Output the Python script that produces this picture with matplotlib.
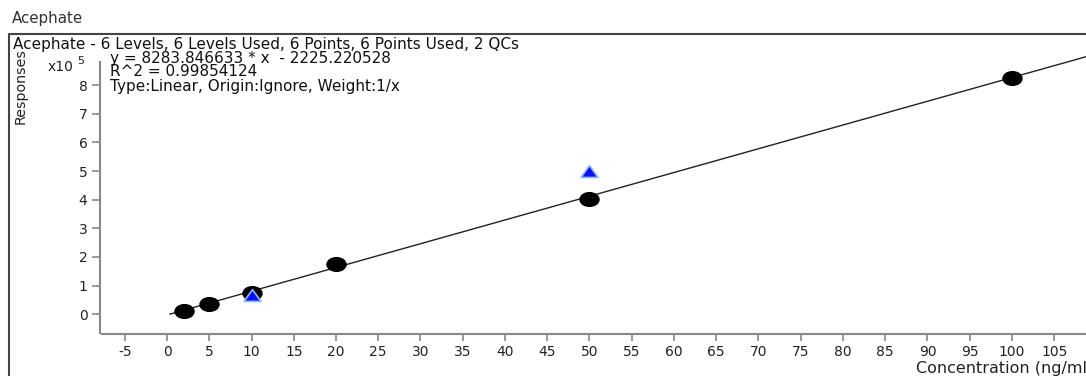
import numpy as np
import matplotlib
matplotlib.use("Agg")
import matplotlib.pyplot as plt
from matplotlib.path import Path
from matplotlib.lines import Line2D

# calibration levels (ng/ml) and responses
conc = [2, 5, 10, 20, 50, 100]
resp = [12600, 36000, 75500, 175500, 401000, 826000]

# QC samples
qc_conc = [10, 50]
qc_resp = [67000, 501000]

# fit: y = a*x + b
slope = 8283.846633
intercept = -2225.220528

title = "Acephate"
box_title = "Acephate - 6 Levels, 6 Levels Used, 6 Points, 6 Points Used, 2 QCs"
fit_lines = ["y = 8283.846633 * x  - 2225.220528",
             "R^2 = 0.99854124",
             "Type:Linear, Origin:Ignore, Weight:1/x"]
xticks = list(range(-5, 110, 5))
yticks = list(range(0, 9))

W, H = 1086, 376
plt.rcParams['font.family'] = 'DejaVu Sans'
fig = plt.figure(figsize=(W / 100, H / 100), dpi=100)


def px(x, y):
    # pixel coords (from top-left) -> figure fraction
    return x / W, 1 - y / H


ax = fig.add_axes([100 / W, (H - 333) / H, (W - 100) / W, (333 - 62) / H])
ax.set_xlim(-7.93, 108.76)
ax.set_ylim(-65200, 880300)

# ellipse marker for the standards, triangle for QCs
circ = Path.unit_circle()
ell = Path(circ.vertices * [1.0, 0.72], circ.codes)
tri = Path([(-1, -0.7), (1, -0.7), (0, 0.7), (-1, -0.7)],
           [Path.MOVETO, Path.LINETO, Path.LINETO, Path.CLOSEPOLY])

xx = np.array([0.35, 112])
ax.plot(xx, slope * xx + intercept, color='#222222', lw=1.0, clip_on=False, zorder=2)
ax.plot(conc, resp, ls='none', marker=ell, ms=13.7, mfc='black', mec='black', zorder=3)
ax.plot(qc_conc, qc_resp, ls='none', marker=tri, ms=12.2, mfc='#0a10f0',
        mec='#8ab8ff', mew=1.2, zorder=4)

ax.set_xticks(xticks)
ax.set_xticklabels([str(t) for t in xticks])
ax.set_yticks([t * 1e5 for t in yticks])
ax.set_yticklabels([str(t) for t in yticks])
ax.tick_params(axis='both', colors='#888888', labelcolor='#222222', labelsize=10, width=1.2)
ax.tick_params(axis='y', length=6, pad=3)
ax.tick_params(axis='x', length=5, pad=3)

for s in ['top', 'right']:
    ax.spines[s].set_visible(False)
for s in ['left', 'bottom']:
    ax.spines[s].set_color('#888888')
    ax.spines[s].set_linewidth(1.5)
ax.spines['bottom'].set_position(('outward', 1))
ax.spines['bottom'].set_bounds(-7.7, 108.76)
ax.patch.set_alpha(0)

# outer frame (runs off the right and bottom edge)
fig.add_artist(Line2D([9 / W, 9 / W, 1.0], [0, 1 - 34 / H, 1 - 34 / H],
                      color='#444444', lw=1.5))

fig.text(*px(12, 19), title, fontsize=10.8, color='#333333', va='center', ha='left')
fig.text(*px(13, 49.5), box_title, fontsize=11, color='#111111', va='baseline', ha='left')
for i, yb in enumerate([63, 76.5, 90.5]):
    fig.text(*px(110, yb), fit_lines[i], fontsize=11, color='#111111',
             va='baseline', ha='left')
fig.text(*px(73, 71), "x10", fontsize=10, color='#222222', va='baseline', ha='right')
fig.text(*px(77, 64), "5", fontsize=8, color='#222222', va='baseline', ha='left')
fig.text(*px(21, 86), "Responses", fontsize=10.3, color='#222222', va='center', ha='center',
         rotation=90)
fig.text(*px(916, 368), "Concentration (ng/ml)", fontsize=11.5, color='#222222',
         va='center', ha='left')

fig.savefig("out.png", dpi=100)
